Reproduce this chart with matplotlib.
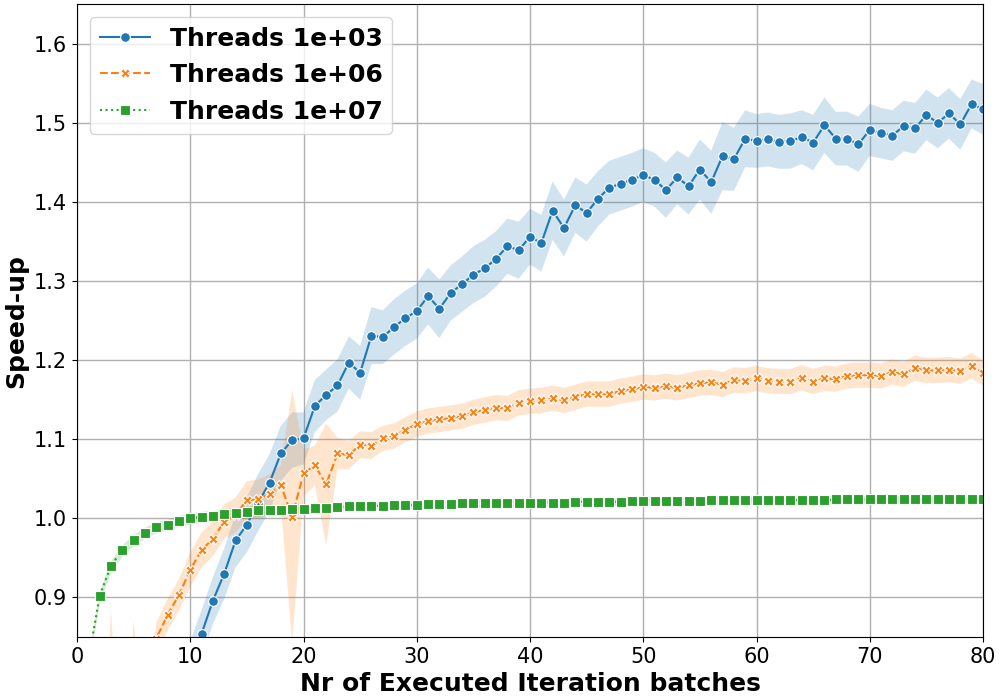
import numpy as np
import matplotlib
matplotlib.use('Agg')
from matplotlib import pyplot as plt


# Data (x = 1..80)
batches = np.arange(1, 81)

speedup_1e03 = [0.55, 0.58, 0.61, 0.64, 0.67, 0.70, 0.73, 0.76, 0.79, 0.815,
                0.854, 0.896, 0.930, 0.972, 0.992, 1.020, 1.045, 1.082, 1.099, 1.101,
                1.142, 1.156, 1.168, 1.197, 1.184, 1.231, 1.229, 1.242, 1.253, 1.262,
                1.281, 1.265, 1.285, 1.296, 1.308, 1.316, 1.328, 1.344, 1.339, 1.356,
                1.348, 1.389, 1.367, 1.396, 1.386, 1.404, 1.418, 1.423, 1.428, 1.434,
                1.428, 1.415, 1.431, 1.420, 1.441, 1.425, 1.458, 1.454, 1.480, 1.477,
                1.479, 1.476, 1.477, 1.482, 1.475, 1.497, 1.480, 1.480, 1.473, 1.491,
                1.487, 1.484, 1.496, 1.493, 1.510, 1.500, 1.512, 1.498, 1.524, 1.517]
ci_1e03 = [0.03, 0.03, 0.03, 0.03, 0.03, 0.03, 0.03, 0.03, 0.03, 0.03,
           0.03, 0.03, 0.032, 0.034, 0.035, 0.036, 0.036, 0.035, 0.035, 0.033,
           0.033, 0.032, 0.033, 0.033, 0.034, 0.036, 0.034, 0.035, 0.035, 0.035,
           0.036, 0.037, 0.035, 0.035, 0.036, 0.036, 0.035, 0.035, 0.036, 0.035,
           0.036, 0.037, 0.036, 0.035, 0.036, 0.035, 0.034, 0.034, 0.034, 0.034,
           0.034, 0.035, 0.034, 0.036, 0.038, 0.040, 0.043, 0.040, 0.036, 0.034,
           0.034, 0.034, 0.035, 0.034, 0.035, 0.035, 0.034, 0.034, 0.035, 0.033,
           0.032, 0.032, 0.032, 0.032, 0.032, 0.032, 0.032, 0.032, 0.031, 0.032]

speedup_1e06 = [0.45, 0.55, 0.60, 0.64, 0.68, 0.71, 0.848, 0.878, 0.903, 0.935,
                0.960, 0.974, 0.996, 1.004, 1.023, 1.024, 1.031, 1.042, 1.002, 1.057,
                1.067, 1.043, 1.082, 1.080, 1.093, 1.092, 1.101, 1.104, 1.112, 1.119,
                1.123, 1.125, 1.127, 1.129, 1.134, 1.137, 1.140, 1.139, 1.146, 1.148,
                1.149, 1.152, 1.149, 1.153, 1.157, 1.157, 1.157, 1.161, 1.163, 1.166,
                1.165, 1.167, 1.165, 1.168, 1.171, 1.172, 1.169, 1.175, 1.174, 1.177,
                1.174, 1.173, 1.173, 1.178, 1.173, 1.177, 1.176, 1.180, 1.181, 1.181,
                1.180, 1.185, 1.182, 1.190, 1.187, 1.187, 1.188, 1.186, 1.193, 1.184]
ci_1e06 = [0.02, 0.02, 0.284, 0.02, 0.19, 0.02, 0.02, 0.02, 0.02, 0.022,
           0.022, 0.022, 0.022, 0.022, 0.024, 0.025, 0.025, 0.025, 0.16, 0.03,
           0.025, 0.077, 0.02, 0.018, 0.017, 0.017, 0.016, 0.016, 0.016, 0.016,
           0.016, 0.016, 0.016, 0.016, 0.016, 0.016, 0.016, 0.016, 0.016, 0.016,
           0.016, 0.016, 0.016, 0.016, 0.016, 0.016, 0.016, 0.016, 0.016, 0.016,
           0.016, 0.016, 0.016, 0.016, 0.016, 0.016, 0.016, 0.016, 0.016, 0.016,
           0.016, 0.016, 0.016, 0.016, 0.016, 0.016, 0.016, 0.016, 0.016, 0.016,
           0.016, 0.016, 0.016, 0.016, 0.016, 0.016, 0.016, 0.016, 0.016, 0.016]

speedup_1e07 = [0.820, 0.902, 0.940, 0.960, 0.973, 0.982, 0.989, 0.992, 0.997, 1.000,
                1.002, 1.003, 1.005, 1.007, 1.008, 1.010, 1.0105, 1.0105, 1.012, 1.012,
                1.0135, 1.0135, 1.014, 1.015, 1.015, 1.016, 1.016, 1.017, 1.017, 1.017,
                1.018, 1.018, 1.018, 1.019, 1.019, 1.019, 1.019, 1.020, 1.020, 1.020,
                1.020, 1.020, 1.020, 1.021, 1.021, 1.021, 1.021, 1.021, 1.022, 1.022,
                1.022, 1.022, 1.022, 1.022, 1.022, 1.023, 1.023, 1.023, 1.023, 1.023,
                1.023, 1.023, 1.023, 1.023, 1.023, 1.023, 1.024, 1.024, 1.024, 1.024,
                1.024, 1.024, 1.024, 1.024, 1.024, 1.024, 1.024, 1.025, 1.024, 1.025]
ci_1e07 = [0.007] * 20 + [0.005] * 20 + [0.005] * 40

series = [('Threads 1e+03', speedup_1e03, ci_1e03, '#1f77b4', '-', 'o', 7),
          ('Threads 1e+06', speedup_1e06, ci_1e06, '#ff7f0e', '--', 'X', 7),
          ('Threads 1e+07', speedup_1e07, ci_1e07, '#2ca02c', ':', 's', 6.5)]

fig = plt.figure(figsize=(10, 7), dpi=100)
ax = fig.add_subplot(111)

for name, y, ci, col, ls, mk, ms in series:
    y = np.array(y)
    ci = np.array(ci)
    ax.fill_between(batches, y - ci, y + ci, color=col, alpha=0.2, lw=0)
    ax.plot(batches, y, ls=ls, color=col, lw=1.5, marker=mk, ms=ms,
            markeredgecolor='white', markeredgewidth=0.8, label=name)

ax.set_xlim(0, 80)
ax.set_ylim(0.85, 1.65)
ax.set_xticks(np.arange(0, 81, 10))
ax.set_yticks([0.9, 1.0, 1.1, 1.2, 1.3, 1.4, 1.5, 1.6])
ax.tick_params(labelsize=15)
ax.grid(True, color='#b0b0b0', lw=1)
ax.set_axisbelow(True)

ax.set_xlabel('Nr of Executed Iteration batches', fontsize=18, fontweight='bold')
ax.set_ylabel('Speed-up', fontsize=18, fontweight='bold')
ax.legend(loc='upper left', prop={'size': 18, 'weight': 'bold'}, numpoints=1)

fig.subplots_adjust(left=0.077, right=0.983, top=0.994, bottom=0.09)
fig.savefig('out.png', dpi=100)
